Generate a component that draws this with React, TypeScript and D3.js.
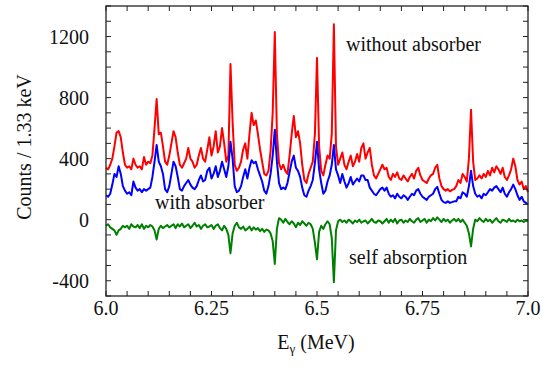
import * as d3 from "d3";

// spectrum binning (channel i sits at eStart + i * eStep MeV)
const eStart = 6.0;
const eStep = 0.005;

// counts, target without absorber (red)
const withoutAbsorber = [
  340, 330, 360, 400, 480, 570, 580, 540, 440, 360, 340, 350, 330, 400, 360, 340, 350, 330, 410, 360,
  380, 370, 420, 600, 790, 560, 570, 480, 380, 360, 420, 500, 580, 540, 440, 360, 340, 370, 400, 470,
  400, 380, 340, 360, 420, 470, 400, 380, 460, 540, 420, 480, 580, 440, 480, 600, 500, 380, 420, 1020,
  640, 360, 320, 340, 380, 460, 500, 400, 560, 700, 620, 650, 560, 460, 380, 300, 290, 320, 450, 700,
  1230, 560, 370, 330, 360, 320, 300, 420, 560, 680, 540, 580, 500, 360, 260, 240, 300, 340, 380, 560,
  1060, 480, 320, 290, 360, 420, 400, 560, 1280, 480, 360, 400, 440, 360, 330, 380, 420, 350, 380, 430,
  380, 470, 500, 400, 440, 470, 360, 290, 270, 300, 330, 360, 330, 340, 280, 260, 300, 280, 310, 270,
  260, 290, 270, 250, 280, 300, 270, 320, 340, 290, 260, 250, 240, 270, 290, 300, 340, 360, 270, 220,
  200, 190, 200, 185, 195, 200, 220, 260, 240, 300, 280, 250, 400, 720, 380, 260, 270, 290, 270, 300,
  280, 320, 290, 340, 310, 350, 330, 300, 340, 280, 260, 290, 330, 400, 350, 260, 230, 250, 200, 220,
  180,
];

// counts, target with absorber (blue)
const withAbsorber = [
  160, 150, 170, 230, 300, 280, 350, 300, 220, 190, 170, 180, 160, 250, 210, 190, 200, 180, 200, 190,
  200, 210, 280, 380, 490, 380, 350, 300, 200, 180, 220, 300, 380, 350, 280, 200, 190, 220, 240, 260,
  230, 210, 200, 220, 260, 290, 250, 260, 320, 340, 270, 300, 350, 280, 320, 380, 330, 280, 350, 510,
  400, 220, 180, 190, 220, 280, 330, 270, 340, 390, 370, 380, 330, 290, 250, 190, 170, 220, 300, 420,
  590, 380, 240, 200, 210, 200, 240, 310, 380, 420, 340, 320, 280, 210, 160, 150, 190, 220, 260, 370,
  510, 330, 240, 170, 190, 250, 290, 360, 490, 330, 290, 240, 300, 250, 210, 240, 280, 230, 250, 270,
  250, 290, 290, 260, 260, 210, 190, 170, 160, 180, 200, 210, 190, 210, 170, 150, 160, 140, 170, 150,
  140, 160, 150, 130, 150, 170, 160, 190, 200, 170, 150, 140, 130, 150, 160, 170, 200, 215, 170, 130,
  115, 110, 120, 110, 115, 120, 120, 150, 140, 180, 170, 150, 220, 320, 220, 170, 150, 160, 140, 170,
  160, 180, 200, 190, 210, 220, 200, 180, 210, 170, 150, 180, 200, 230, 200, 160, 130, 150, 120, 110,
  100,
];

// difference, self absorption (green)
const selfAbsorption = [
  -40, -30, -50, -60, -70, -100, -70, -60, -40, -50, -40, -60, -30, -45, -50, -35, -55, -30, -60, -40,
  -50, -35, -45, -70, -130, -60, -40, -55, -45, -35, -50, -40, -30, -55, -30, -45, -25, -50, -40, -30,
  -55, -40, -20, -45, -35, -60, -40, -30, -50, -45, -35, -60, -40, -30, -55, -70, -40, -60, -100, -220,
  -90, -40, -20, -50, -60, -45, -70, -60, -45, -70, -50, -65, -55, -75, -60, -80, -65, -70, -90, -140,
  -290, -60, 10, 0, -20, 5, -15, -30, -10, -25, -50, -20, -35, -10, -25, -40, -20, -30, -60, -150,
  -260, -80, -40, -60, -30, -10, -30, -120, -410, -70, -10, 0, -15, -5, -20, 0, -10, -25, -5, -15,
  0, -20, -10, -5, -25, -10, 5, -15, -20, -5, -10, -25, -10, 5, -20, 0, -15, 5, -25, -5,
  0, -20, -5, -15, 5, -10, -20, 0, 10, -15, -5, 5, -20, 0, -10, 10, -5, 15, 0, -15,
  5, -10, 0, -20, -5, 5, -10, 5, -15, 0, -20, -40, -90, -175, -60, 0, -10, 10, -5, -15,
  5, -10, 0, -20, -5, 10, -10, -20, 0, -5, -15, 5, -10, -5, -15, 0, -10, -5, -15, -5,
  -10,
];

// axis labels
const xTickValues = [6.0, 6.25, 6.5, 6.75, 7.0];
const xTickLabels = ["6.0", "6.25", "6.5", "6.75", "7.0"];
const yTickValues = [-400, 0, 400, 800, 1200];

const W = 553;
const H = 370;
const plot = { left: 106, right: 528, top: 6, bottom: 296 };
const font = "'Liberation Serif', 'Times New Roman', serif";

export default function App() {
  const x = d3.scaleLinear().domain([6, 7]).range([plot.left, plot.right]);
  const y = d3.scaleLinear().domain([-500, 1400]).range([plot.bottom, plot.top]);

  // line generator over channel index
  const line = d3
    .line<number>()
    .x((_, i) => x(eStart + i * eStep))
    .y((d) => y(d));

  const xMinor = x.ticks(20);
  const yMinor = d3.range(-500, 1401, 100);
  const tick = 5;

  return (
    <svg
      width={W}
      height={H}
      style={{ position: "absolute", left: 0, top: 0, background: "#fff" }}
      fontFamily={font}
    >
      {/* spectra */}
      <path d={line(withoutAbsorber) || ""} fill="none" stroke="#ff0000" strokeWidth={2} strokeLinejoin="round" />
      <path d={line(withAbsorber) || ""} fill="none" stroke="#0000ff" strokeWidth={2} strokeLinejoin="round" />
      <path d={line(selfAbsorption) || ""} fill="none" stroke="#008000" strokeWidth={2} strokeLinejoin="round" />

      {/* frame */}
      <rect
        x={plot.left}
        y={plot.top}
        width={plot.right - plot.left}
        height={plot.bottom - plot.top}
        fill="none"
        stroke="#222"
        strokeWidth={1.3}
      />

      {/* inward ticks, all four sides */}
      {xMinor.map((t) => (
        <g key={"xt" + t} stroke="#222" strokeWidth={1}>
          <line x1={x(t)} x2={x(t)} y1={plot.bottom} y2={plot.bottom - tick} />
          <line x1={x(t)} x2={x(t)} y1={plot.top} y2={plot.top + tick} />
        </g>
      ))}
      {yMinor.map((t) => (
        <g key={"yt" + t} stroke="#222" strokeWidth={1}>
          <line x1={plot.left} x2={plot.left + tick} y1={y(t)} y2={y(t)} />
          <line x1={plot.right} x2={plot.right - tick} y1={y(t)} y2={y(t)} />
        </g>
      ))}

      {/* tick labels */}
      {xTickValues.map((t, i) => (
        <text key={"xl" + t} x={x(t)} y={315} fontSize={20} textAnchor="middle" fill="#111">
          {xTickLabels[i]}
        </text>
      ))}
      {yTickValues.map((t) => (
        <text key={"yl" + t} x={89} y={y(t) + 7} fontSize={20} textAnchor="end" fill="#111">
          {t}
        </text>
      ))}

      {/* axis titles */}
      <text x={316} y={349} fontSize={20} textAnchor="middle" fill="#111">
        E<tspan fontSize={13} dy={4}>γ</tspan>
        <tspan dy={-4}> (MeV)</tspan>
      </text>
      <text transform="translate(31,147) rotate(-90)" fontSize={20} textAnchor="middle" fill="#111">
        Counts / 1.33 keV
      </text>

      {/* series annotations */}
      <text x={346} y={51} fontSize={20} fill="#111">without absorber</text>
      <text x={155} y={209} fontSize={20} fill="#111">with absorber</text>
      <text x={349} y={264} fontSize={20} fill="#111">self absorption</text>
    </svg>
  );
}
